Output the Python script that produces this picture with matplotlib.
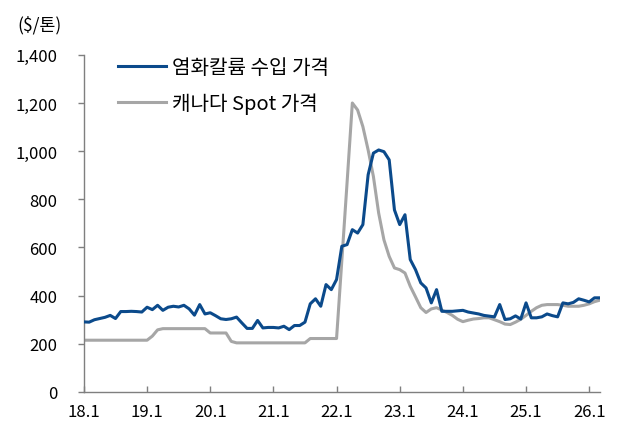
import matplotlib
matplotlib.use("Agg")
import matplotlib.pyplot as plt
import numpy as np

plt.rcParams['font.family'] = ['Noto Sans CJK KR', 'DejaVu Sans']

# monthly, 2018.1 ~ 2026.3
import_price = [291, 290, 300, 305, 310, 318, 305, 334, 334, 335, 334, 332,
                352, 342, 360, 339, 352, 356, 353, 360, 345, 319, 363, 324,
                329, 317, 304, 301, 304, 311, 287, 264, 264, 297, 266, 268,
                268, 266, 273, 259, 276, 276, 290, 366, 387, 356, 446, 425,
                467, 605, 612, 674, 660, 695, 902, 992, 1005, 998, 964, 756,
                695, 736, 550, 508, 453, 432, 370, 425, 335, 335, 335, 337,
                339, 332, 328, 324, 318, 315, 312, 363, 301, 304, 316, 303,
                370, 308, 308, 312, 324, 317, 312, 370, 366, 372, 387, 381,
                374, 391, 391]
canada_spot = [215, 215, 215, 215, 215, 215, 215, 215, 215, 215, 215, 215,
               215, 232, 258, 263, 263, 263, 263, 263, 263, 263, 263, 263,
               245, 245, 245, 245, 210, 204, 204, 204, 204, 204, 204, 204,
               204, 204, 204, 204, 204, 204, 204, 222, 222, 222, 222, 222,
               222, 545, 870, 1200, 1171, 1102, 1005, 895, 743, 632, 563, 515,
               508, 494, 439, 395, 350, 330, 345, 350, 340, 330, 318, 302,
               292, 298, 303, 305, 308, 308, 300, 292, 282, 280, 290, 302,
               318, 335, 350, 360, 363, 363, 363, 360, 356, 356, 356, 360,
               366, 375, 381]
tick_labels = ['18.1', '19.1', '20.1', '21.1', '22.1', '23.1', '24.1', '25.1', '26.1']
labels = ['염화칼륨 수입 가격', '캐나다 Spot 가격']

x = np.arange(len(import_price))

fig = plt.figure(figsize=(6.17, 4.35), dpi=100)
ax = fig.add_axes([0.136, 0.0966, 0.836, 0.775])

ax.plot(x, import_price, color='#0b4a8b', lw=2.2, label=labels[0], zorder=3)
ax.plot(x, canada_spot, color='#a6a6a6', lw=2.2, label=labels[1], zorder=2)

ax.set_xlim(0, len(x) - 1)
ax.set_ylim(0, 1400)
ax.set_yticks(range(0, 1401, 200))
ax.set_yticklabels(['{:,}'.format(v) for v in range(0, 1401, 200)])
ax.set_xticks(range(0, len(x), 12))
ax.set_xticklabels(tick_labels)

for s in ['top', 'right']:
    ax.spines[s].set_visible(False)
for s in ['left', 'bottom']:
    ax.spines[s].set_color('#7f7f7f')
    ax.spines[s].set_linewidth(1.0)

ax.tick_params(axis='y', direction='out', length=4, width=1, color='#7f7f7f',
               pad=15, labelsize=12, labelcolor='black')
ax.tick_params(axis='x', direction='in', length=4, width=1, color='#7f7f7f',
               pad=8, labelsize=12, labelcolor='black')

fig.text(17 / 617, 1 - 25 / 435, '($/톤)', fontsize=12.5, va='center', ha='left')

leg = ax.legend(loc='upper left', bbox_to_anchor=(110 / 617, 1 - 50 / 435),
                bbox_transform=fig.transFigure, frameon=False, fontsize=14.5,
                handlelength=2.4, handletextpad=0.3, labelspacing=0.7,
                borderaxespad=0)

fig.savefig('out.png', dpi=100)
